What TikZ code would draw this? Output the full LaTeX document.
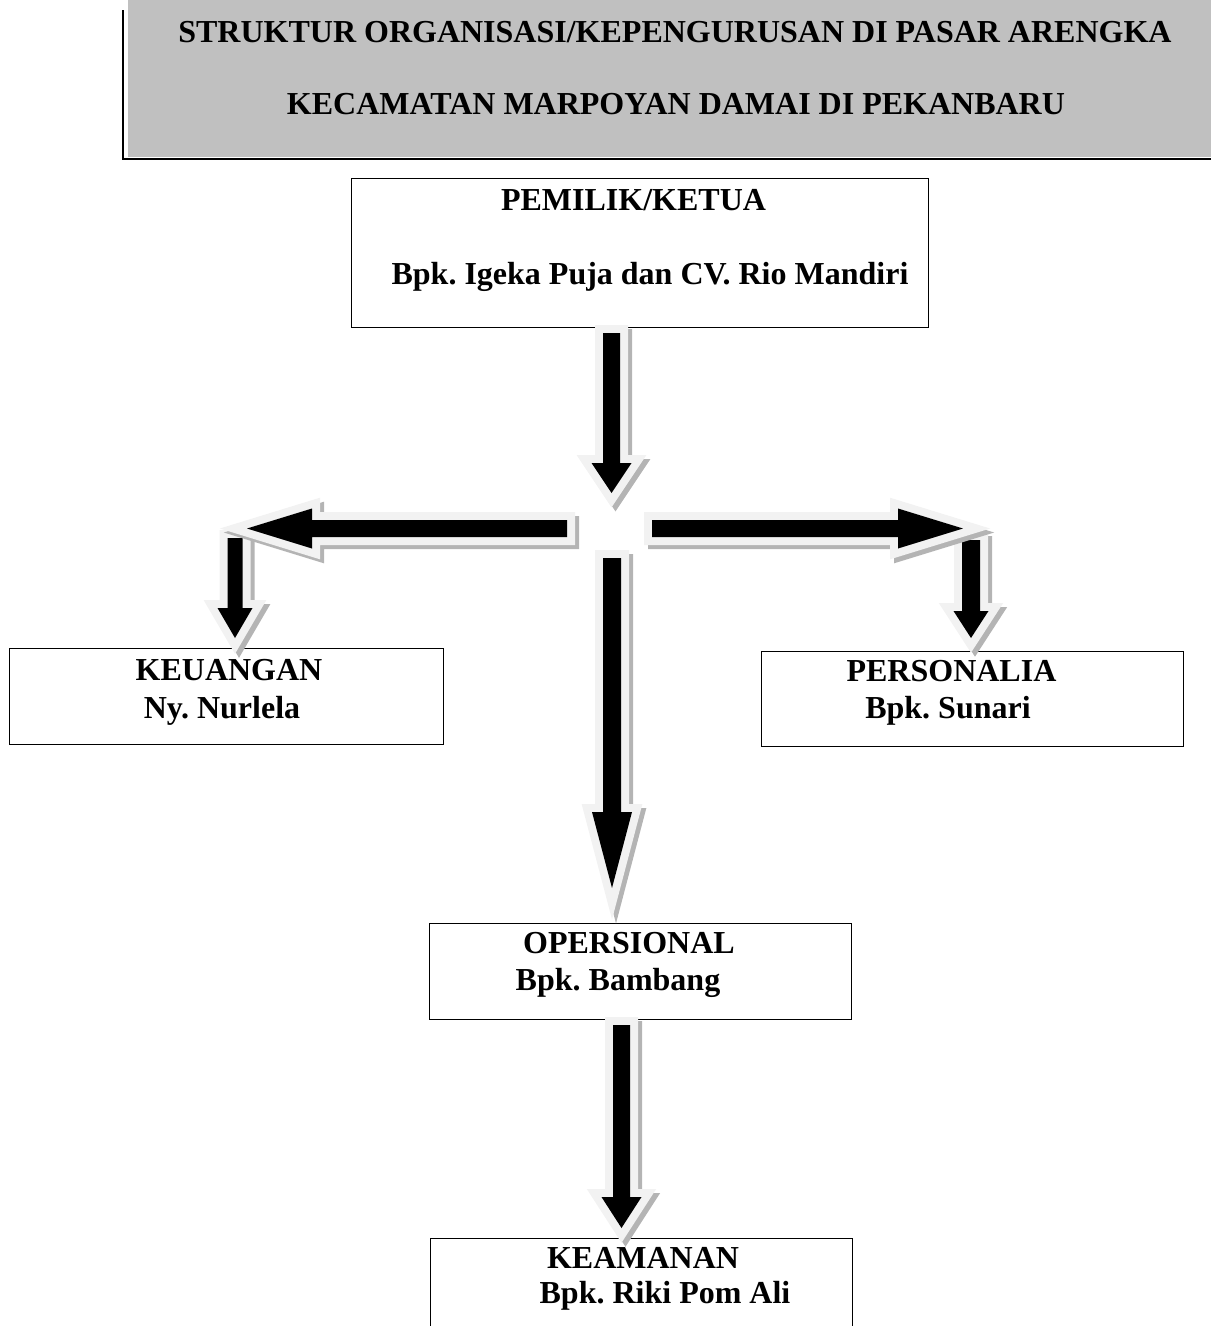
\documentclass[tikz,border=0pt]{standalone}
\usepackage{fontspec}
\setmainfont{Liberation Serif}
\usetikzlibrary{calc,positioning}
\definecolor{rimgray}{RGB}{242,242,242}
\definecolor{shadegray}{RGB}{180,180,180}
\definecolor{headgray}{RGB}{192,192,192}
\frenchspacing
\tikzset{
unit_box/.style={
	% plain frame, the texts are set on their own
	rectangle,
	draw=black,
	line width=1.3pt,
	inner sep=0pt,
	anchor=north west
},
unit_text/.style={
	font=\bfseries\fontsize{32}{38}\selectfont,
	inner sep=0pt,
	anchor=base
},
% block arrows: shadow, light rim, black core
arrow_shadow/.style={fill=shadegray, draw=shadegray, line width=16pt, line join=miter,
	transform canvas={shift={(4pt,-4pt)}}},
arrow_rim/.style={fill=rimgray, draw=rimgray, line width=16pt, line join=miter},
arrow_core/.style={fill=black}
}
% tail, tip, half shaft, half head, head length
\newcommand{\blockarrow}[5]{%
	\coordinate (hb) at ($(#2)!#5!(#1)$);
	\def\arrowshape{($(#1)!#3!90:(#2)$) -- ($(hb)!#3!90:(#2)$) -- ($(hb)!#4!90:(#2)$) -- (#2)
		-- ($(hb)!#4!-90:(#2)$) -- ($(hb)!#3!-90:(#2)$) -- ($(#1)!#3!-90:(#2)$) -- cycle}%
	\path[arrow_shadow] \arrowshape;
	\path[arrow_rim] \arrowshape;
	\path[arrow_core] \arrowshape;
}
\begin{document}
\begin{tikzpicture}[x=1pt, y=-1pt]
	\useasboundingbox (0,0) rectangle (1211,1326);

	% heading
	\fill[headgray] (128,0) rectangle (1211,157);
	\draw[line width=1.3pt] (123,10) -- (123,159) -- (1211,159);
	\node[unit_text] (title_a) at (675,42.5) {STRUKTUR ORGANISASI/KEPENGURUSAN DI PASAR ARENGKA};
	\node[unit_text] (title_b) at (676,114.5) {KECAMATAN MARPOYAN DAMAI DI PEKANBARU};

	% boxes
	\node[unit_box, minimum width=577pt, minimum height=149pt] (ketua) at (351,178) {};
	\node[unit_box, minimum width=434pt, minimum height=96pt] (keuangan) at (9,648) {};
	\node[unit_box, minimum width=422pt, minimum height=95pt] (personalia) at (761,651) {};
	\node[unit_box, minimum width=422pt, minimum height=96pt] (operasional) at (429,923) {};
	\node[unit_box, minimum width=422pt, minimum height=120pt] (keamanan) at (430,1238) {};

	% arrow ends
	\coordinate (ketua_out) at (611.5,333);
	\coordinate (hub_in) at (611.5,493);
	\coordinate (hub_left) at (567,528.5);
	\coordinate (turn_left) at (247,528.5);
	\coordinate (keuangan_top) at (235,538);
	\coordinate (keuangan_in) at (235,638);
	\coordinate (hub_right) at (652,528.5);
	\coordinate (turn_right) at (963,528.5);
	\coordinate (personalia_top) at (971,540);
	\coordinate (personalia_in) at (971,638);
	\coordinate (hub_down) at (612,558);
	\coordinate (operasional_in) at (612,888);
	\coordinate (operasional_out) at (621.5,1025);
	\coordinate (keamanan_in) at (621.5,1228);

	% arrows
	\blockarrow{ketua_out}{hub_in}{8.5pt}{20pt}{30pt}
	\blockarrow{keuangan_top}{keuangan_in}{7.5pt}{17.5pt}{30pt}
	\blockarrow{hub_left}{turn_left}{8.5pt}{20pt}{65pt}
	\blockarrow{personalia_top}{personalia_in}{9pt}{17.5pt}{27pt}
	\blockarrow{hub_right}{turn_right}{8.5pt}{20pt}{65pt}
	\blockarrow{hub_down}{operasional_in}{9pt}{20pt}{76pt}
	\blockarrow{operasional_out}{keamanan_in}{8.5pt}{20pt}{31pt}

	% texts
	\node[unit_text] (ketua_role) at (633.5,210) {PEMILIK/KETUA};
	\node[unit_text] (ketua_name) at (650,284) {Bpk. Igeka Puja dan CV. Rio Mandiri};
	\node[unit_text] (keuangan_role) at (229,680.5) {KEUANGAN};
	\node[unit_text] (keuangan_name) at (222,718) {Ny. Nurlela};
	\node[unit_text] (personalia_role) at (951.5,681.5) {PERSONALIA};
	\node[unit_text] (personalia_name) at (948,718.5) {Bpk. Sunari};
	\node[unit_text] (operasional_role) at (629,953.5) {OPERSIONAL};
	\node[unit_text] (operasional_name) at (618,990.5) {Bpk. Bambang};
	\node[unit_text] (keamanan_role) at (643,1268) {KEAMANAN};
	\node[unit_text] (keamanan_name) at (665,1303) {Bpk. Riki Pom Ali};
\end{tikzpicture}
\end{document}
